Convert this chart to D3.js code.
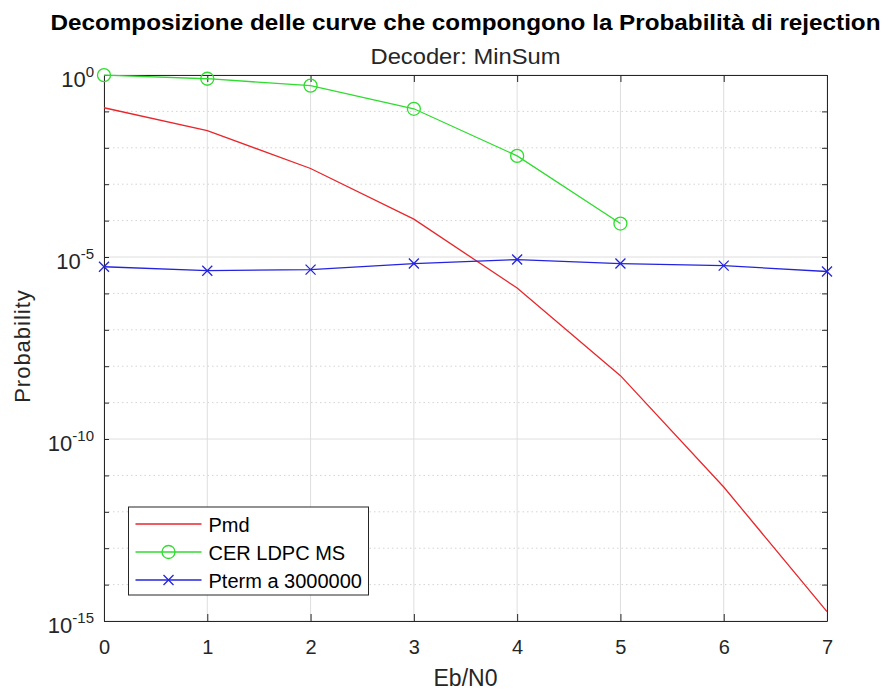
<!DOCTYPE html>
<html>
<head>
<meta charset="utf-8">
<script src="https://cdn.jsdelivr.net/npm/d3@7"></script>
<style>
  body { margin: 0; background: #fff; }
  svg text { font-family: "Liberation Sans", Arial, sans-serif; fill: #262626; }
</style>
</head>
<body>
<div id="chart"></div>
<script>
// data
const ebn0 = [0, 1, 2, 3, 4, 5, 6, 7];
const pmd = [0.126, 0.0295, 2.7e-3, 1.1e-4, 1.4e-6, 5.5e-9, 4.8e-12, 1.8e-15];
const cerEbn0 = [0, 1, 2, 3, 4, 5];
const cerLdpc = [0.99, 0.79, 0.51, 0.118, 6.0e-3, 8.3e-5];
const pterm = [5.4e-6, 4.2e-6, 4.5e-6, 6.6e-6, 8.5e-6, 6.6e-6, 5.8e-6, 4.0e-6];
const xTicks = [0, 1, 2, 3, 4, 5, 6, 7];
const yMajorExp = [0, -5, -10, -15];
const yMinorExp = d3.range(0, -16, -1);
const seriesNames = ["Pmd", "CER LDPC MS", "Pterm a 3000000"];

const WIDTH = 888, HEIGHT = 693;
const margin = { top: 75, right: 61, bottom: 72, left: 104 };
const WIDTHVIS = WIDTH - margin.left - margin.right;
const HEIGHTVIS = HEIGHT - margin.top - margin.bottom;

const RED = "#e8262b", GREEN = "#2fdc2f", BLUE = "#2424e0";

const svg = d3.select("#chart").append("svg")
    .attr("width", WIDTH)
    .attr("height", HEIGHT);

const xScale = d3.scaleLinear().domain([0, 7]).range([0, WIDTHVIS]);
const yScale = d3.scaleLog().domain([1e-15, 1]).range([HEIGHTVIS, 0]);

const plot = svg.append("g").attr("transform", `translate(${margin.left},${margin.top})`);

// grid
plot.append("g").selectAll("line")
    .data(xTicks)
    .join("line")
    .attr("x1", d => xScale(d)).attr("x2", d => xScale(d))
    .attr("y1", 0).attr("y2", HEIGHTVIS)
    .attr("stroke", "#dedede").attr("stroke-width", 1);

plot.append("g").selectAll("line")
    .data(yMinorExp.filter(e => !yMajorExp.includes(e)))
    .join("line")
    .attr("x1", 0).attr("x2", WIDTHVIS)
    .attr("y1", d => yScale(Math.pow(10, d))).attr("y2", d => yScale(Math.pow(10, d)))
    .attr("stroke", "#d4d4d4").attr("stroke-width", 1)
    .attr("stroke-dasharray", "1.5,3");

plot.append("g").selectAll("line")
    .data(yMajorExp)
    .join("line")
    .attr("x1", 0).attr("x2", WIDTHVIS)
    .attr("y1", d => yScale(Math.pow(10, d))).attr("y2", d => yScale(Math.pow(10, d)))
    .attr("stroke", "#dedede").attr("stroke-width", 1);

// axes (MATLAB style: inward ticks, box)
const axisColor = "#262626";
const xAxisB = d3.axisBottom(xScale).tickValues(xTicks).tickFormat(d3.format("d"))
    .tickSizeInner(-7).tickSizeOuter(0).tickPadding(19);
const gx = plot.append("g").attr("transform", `translate(0,${HEIGHTVIS})`).call(xAxisB);
gx.select(".domain").attr("stroke", axisColor);
gx.selectAll(".tick line").attr("stroke", axisColor);
gx.selectAll(".tick text")
    .attr("font-size", 20)
    .attr("fill", axisColor)
    .style("font-family", "'Liberation Sans', Arial, sans-serif");

const xAxisT = d3.axisTop(xScale).tickValues(xTicks).tickSizeInner(-7).tickSizeOuter(0).tickFormat("");
const gxt = plot.append("g").call(xAxisT);
gxt.select(".domain").attr("stroke", axisColor);
gxt.selectAll(".tick line").attr("stroke", axisColor);

const yTickVals = yMinorExp.map(e => Math.pow(10, e));
const yAxisL = d3.axisLeft(yScale).tickValues(yTickVals).tickSizeInner(-5).tickSizeOuter(0).tickFormat("");
const gy = plot.append("g").call(yAxisL);
gy.select(".domain").attr("stroke", axisColor);
gy.selectAll(".tick line").attr("stroke", axisColor);

const yAxisR = d3.axisRight(yScale).tickValues(yTickVals).tickSizeInner(-5).tickSizeOuter(0).tickFormat("");
const gyr = plot.append("g").attr("transform", `translate(${WIDTHVIS},0)`).call(yAxisR);
gyr.select(".domain").attr("stroke", axisColor);
gyr.selectAll(".tick line").attr("stroke", axisColor);

// y tick labels 10^n
const yLab = plot.append("g").selectAll("text")
    .data(yMajorExp)
    .join("text")
    .attr("x", -10)
    .attr("y", d => yScale(Math.pow(10, d)) + 12)
    .attr("text-anchor", "end")
    .attr("font-size", 22);
yLab.append("tspan").text("10");
yLab.append("tspan")
    .attr("dy", -10)
    .attr("font-size", 15)
    .text(d => String(d));

// axis titles
svg.append("text")
    .attr("x", margin.left + WIDTHVIS / 2)
    .attr("y", 686)
    .attr("text-anchor", "middle")
    .attr("font-size", 23)
    .text("Eb/N0");

svg.append("text")
    .attr("transform", `translate(30,${margin.top + HEIGHTVIS / 2 - 2}) rotate(-90)`)
    .attr("text-anchor", "middle")
    .attr("font-size", 22)
    .attr("letter-spacing", 1)
    .text("Probability");

// titles
svg.append("text")
    .attr("x", margin.left + WIDTHVIS / 2)
    .attr("y", 30)
    .attr("text-anchor", "middle")
    .attr("font-size", 22)
    .attr("font-weight", "bold")
    .attr("textLength", 830)
    .attr("lengthAdjust", "spacingAndGlyphs")
    .style("fill", "#000")
    .text("Decomposizione delle curve che compongono la Probabilità di rejection");

svg.append("text")
    .attr("x", margin.left + WIDTHVIS / 2)
    .attr("y", 64)
    .attr("text-anchor", "middle")
    .attr("font-size", 22)
    .attr("textLength", 190)
    .attr("lengthAdjust", "spacingAndGlyphs")
    .text("Decoder: MinSum");

// lines
const line = d3.line().x(d => xScale(d[0])).y(d => yScale(d[1]));

plot.append("path")
    .datum(d3.zip(ebn0, pmd))
    .attr("d", line)
    .attr("fill", "none").attr("stroke", RED).attr("stroke-width", 1.3);

plot.append("path")
    .datum(d3.zip(cerEbn0, cerLdpc))
    .attr("d", line)
    .attr("fill", "none").attr("stroke", GREEN).attr("stroke-width", 1.3);

plot.append("g").selectAll("circle")
    .data(d3.zip(cerEbn0, cerLdpc))
    .join("circle")
    .attr("cx", d => xScale(d[0]))
    .attr("cy", d => yScale(d[1]))
    .attr("r", 6.5)
    .attr("fill", "none").attr("stroke", GREEN).attr("stroke-width", 1.3);

plot.append("path")
    .datum(d3.zip(ebn0, pterm))
    .attr("d", line)
    .attr("fill", "none").attr("stroke", BLUE).attr("stroke-width", 1.3);

const crossPath = (cx, cy, s) => `M${cx - s},${cy - s}L${cx + s},${cy + s}M${cx - s},${cy + s}L${cx + s},${cy - s}`;
plot.append("g").selectAll("path")
    .data(d3.zip(ebn0, pterm))
    .join("path")
    .attr("d", d => crossPath(xScale(d[0]), yScale(d[1]), 5))
    .attr("fill", "none").attr("stroke", BLUE).attr("stroke-width", 1.3);

// legend
const legend = svg.append("g").attr("transform", "translate(128.5,507)");
legend.append("rect")
    .attr("width", 240).attr("height", 88)
    .attr("fill", "#fff").attr("stroke", axisColor).attr("stroke-width", 1);

const legendColors = [RED, GREEN, BLUE];
const rows = legend.selectAll("g.row")
    .data(seriesNames)
    .join("g")
    .attr("class", "row")
    .attr("transform", (d, i) => `translate(0,${17 + i * 28})`);

rows.append("line")
    .attr("x1", 7).attr("x2", 73)
    .attr("stroke", (d, i) => legendColors[i]).attr("stroke-width", 1.3);

rows.filter((d, i) => i === 1).append("circle")
    .attr("cx", 40).attr("r", 6.5)
    .attr("fill", "none").attr("stroke", GREEN).attr("stroke-width", 1.3);

rows.filter((d, i) => i === 2).append("path")
    .attr("d", crossPath(40, 0, 5))
    .attr("stroke", BLUE).attr("stroke-width", 1.3);

rows.append("text")
    .attr("x", 80).attr("y", 8)
    .attr("font-size", 20)
    .style("fill", "#000")
    .text(d => d);
</script>
</body>
</html>
